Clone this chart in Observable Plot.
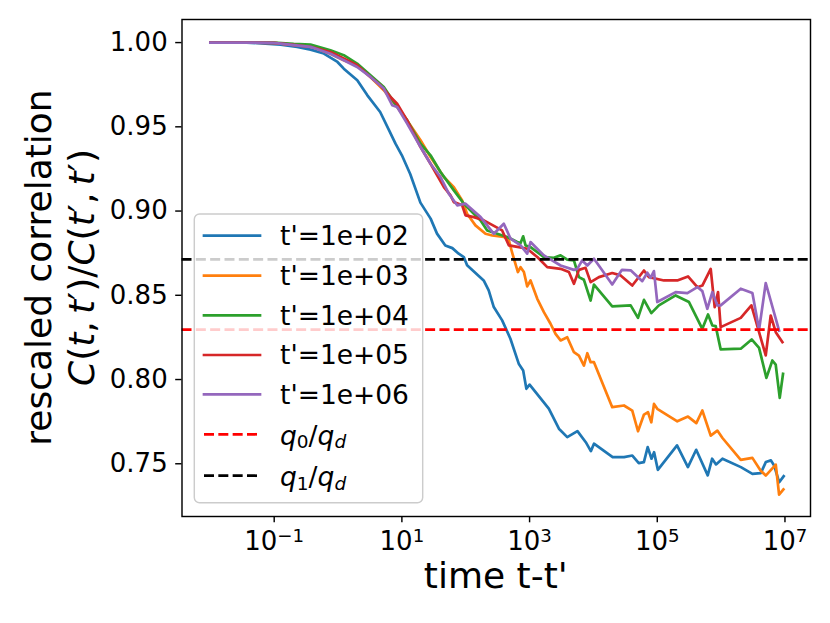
<!DOCTYPE html>
<html>
<head>
<meta charset="utf-8">
<script src="https://cdn.jsdelivr.net/npm/d3@7"></script>
<script src="https://cdn.jsdelivr.net/npm/@observablehq/plot@0.6"></script>
<style>
  html, body { margin: 0; padding: 0; background: white; }
  #chart { width: 830px; height: 623px; }
</style>
</head>
<body>
<div id="chart"></div>
<script>
// ---- data ----
const t_1e2 = [0.01, 0.037, 0.126, 0.229, 0.372, 0.60, 0.98, 1.23, 2.0, 2.88, 4.57, 6.31, 7.94, 10, 13.5, 19.5, 28.2, 35.5, 47.9, 61.7, 77.6, 93.3, 105, 191, 229, 275, 372, 501, 676, 794, 891, 1000, 2000, 2880, 3890, 5620, 7590, 9120, 10200, 20000, 30200, 40700, 51300, 61700, 70800, 81300, 89100, 102000, 204000, 302000, 407000, 617000, 724000, 832000, 1.05e6, 2.04e6, 3.09e6, 4.17e6, 5.01e6, 6.03e6, 6.76e6, 8.13e6, 9.55e6];
const c_1e2 = [1.000, 1.000, 0.9988, 0.9974, 0.9958, 0.9935, 0.9885, 0.9845, 0.9776, 0.9687, 0.9588, 0.9479, 0.9400, 0.9331, 0.9220, 0.9050, 0.8955, 0.8866, 0.8796, 0.8780, 0.8747, 0.8727, 0.8678, 0.8588, 0.8529, 0.8430, 0.8351, 0.8242, 0.8094, 0.8054, 0.7945, 0.7970, 0.7827, 0.7708, 0.7658, 0.7694, 0.7628, 0.7575, 0.7619, 0.7539, 0.7539, 0.7549, 0.7504, 0.7510, 0.7599, 0.7530, 0.7569, 0.7464, 0.7609, 0.7480, 0.7583, 0.7431, 0.7530, 0.7496, 0.7530, 0.7480, 0.7440, 0.7444, 0.7510, 0.7520, 0.7490, 0.7390, 0.7426];

const t_1e3 = [0.01, 0.037, 0.098, 0.202, 0.37, 0.76, 1.23, 1.99, 3.22, 5.21, 8.43, 12.1, 19.6, 28.1, 45.5, 65.2, 87.9, 105, 142, 204, 260, 395, 474, 522, 568, 656, 723, 815, 918, 1035, 1320, 1675, 2130, 2550, 3060, 3890, 4950, 5930, 7100, 8020, 9040, 10200, 19700, 30100, 40600, 49900, 61900, 71600, 80700, 88900, 100000, 206000, 303000, 409000, 508000, 687000, 873000, 1.05e6, 2.03e6, 3.09e6, 4.17e6, 5.0e6, 7.18e6, 8.09e6, 9.46e6];
const c_1e3 = [1.000, 1.000, 0.9998, 0.9986, 0.9978, 0.9934, 0.9895, 0.9865, 0.9796, 0.9717, 0.9618, 0.9538, 0.9420, 0.9321, 0.9202, 0.9142, 0.9063, 0.8984, 0.8915, 0.8865, 0.8855, 0.8846, 0.8826, 0.8766, 0.8717, 0.8638, 0.8667, 0.8638, 0.8553, 0.8588, 0.8479, 0.8400, 0.8331, 0.8271, 0.8232, 0.8251, 0.8162, 0.8142, 0.8083, 0.8156, 0.8103, 0.8103, 0.7836, 0.7846, 0.7816, 0.7693, 0.7792, 0.7806, 0.7746, 0.7855, 0.7826, 0.7752, 0.7780, 0.7741, 0.7816, 0.7667, 0.7697, 0.7653, 0.7523, 0.7535, 0.7459, 0.7430, 0.7495, 0.7317, 0.7348];

const t_1e4 = [0.01, 0.037, 0.098, 0.202, 0.37, 0.76, 1.23, 1.99, 3.22, 5.21, 7.48, 12.1, 19.6, 28.1, 40.3, 65.2, 93.5, 171, 217, 311, 447, 641, 723, 794, 865, 1035, 1675, 2400, 3060, 3890, 4950, 5930, 7100, 9040, 10200, 19700, 38300, 49900, 61900, 80700, 106000, 194000, 314000, 508000, 624000, 729000, 822000, 984000, 2.03e6, 3.01e6, 3.93e6, 5.12e6, 6.35e6, 7.16e6, 8.28e6, 9.33e6];
const c_1e4 = [1.000, 1.000, 1.000, 0.9992, 0.9988, 0.9954, 0.9925, 0.9875, 0.9806, 0.9736, 0.9647, 0.9538, 0.9400, 0.9331, 0.9232, 0.9123, 0.9043, 0.8944, 0.8885, 0.8865, 0.8846, 0.8816, 0.8810, 0.8850, 0.8796, 0.8786, 0.8727, 0.8723, 0.8737, 0.8711, 0.8707, 0.8608, 0.8592, 0.8469, 0.8564, 0.8434, 0.8440, 0.8366, 0.8473, 0.8394, 0.8440, 0.8499, 0.8460, 0.8301, 0.8386, 0.8321, 0.8317, 0.8179, 0.8183, 0.8238, 0.8188, 0.8010, 0.8113, 0.8089, 0.7891, 0.8034];

const t_1e5 = [0.01, 0.037, 0.098, 0.202, 0.37, 0.76, 1.23, 1.99, 3.22, 4.62, 6.64, 8.43, 12.1, 19.6, 28.1, 45.5, 57.8, 65.2, 87.9, 99.3, 134, 192, 372, 474, 679, 918, 1320, 1890, 3060, 4130, 4950, 5930, 7530, 9040, 12200, 19700, 26700, 40600, 61900, 74100, 127000, 206000, 303000, 425000, 508000, 687000, 793000, 895000, 984000, 2.03e6, 2.98e6, 5.0e6, 5.98e6, 7.18e6, 9.12e6];
const c_1e5 = [1.000, 1.000, 0.9998, 0.9986, 0.9975, 0.9944, 0.9905, 0.9865, 0.9796, 0.9746, 0.9677, 0.9637, 0.9538, 0.9380, 0.9281, 0.9142, 0.9093, 0.9053, 0.9034, 0.8974, 0.8964, 0.8945, 0.8885, 0.8796, 0.8786, 0.8776, 0.8727, 0.8667, 0.8657, 0.8638, 0.8568, 0.8651, 0.8663, 0.8578, 0.8608, 0.8632, 0.8618, 0.8558, 0.8647, 0.8608, 0.8588, 0.8588, 0.8612, 0.8548, 0.8558, 0.8657, 0.8430, 0.8519, 0.8311, 0.8366, 0.8440, 0.8143, 0.8380, 0.8281, 0.8222];

const t_1e6 = [0.01, 0.037, 0.098, 0.202, 0.37, 0.76, 1.23, 1.99, 3.22, 5.21, 7.05, 8.43, 12.1, 19.6, 28.1, 40.3, 54.3, 73.5, 99.3, 171, 276, 395, 504, 723, 918, 1035, 1675, 3060, 4950, 5580, 6680, 8020, 10200, 13800, 19700, 28000, 38300, 58300, 69800, 78700, 88700, 100000, 194000, 296000, 425000, 508000, 608000, 729000, 873000, 984000, 2.03e6, 3.09e6, 3.93e6, 5.0e6, 8.09e6];
const c_1e6 = [1.000, 1.000, 0.9998, 0.9985, 0.9975, 0.9934, 0.9895, 0.9855, 0.9796, 0.9727, 0.9628, 0.9618, 0.9519, 0.9380, 0.9281, 0.9202, 0.9103, 0.9034, 0.9044, 0.8964, 0.8865, 0.8925, 0.8836, 0.8796, 0.8747, 0.8816, 0.8737, 0.8677, 0.8651, 0.8657, 0.8707, 0.8677, 0.8717, 0.8647, 0.8564, 0.8651, 0.8648, 0.8584, 0.8634, 0.8604, 0.8644, 0.8460, 0.8519, 0.8513, 0.8549, 0.8525, 0.8420, 0.8519, 0.8440, 0.8440, 0.8539, 0.8513, 0.8295, 0.8573, 0.8291];

const seriesLabels = ["t'=1e+02", "t'=1e+03", "t'=1e+04", "t'=1e+05", "t'=1e+06"];
const seriesColors = ["#1f77b4", "#ff7f0e", "#2ca02c", "#d62728", "#9467bd"];
const q0_over_qd = 0.8296;
const q1_over_qd = 0.8713;
const xTicks = [1e-1, 1e1, 1e3, 1e5, 1e7];
const yTicks = [0.75, 0.80, 0.85, 0.90, 0.95, 1.00];

// ---- build tables ----
const seriesT = [t_1e2, t_1e3, t_1e4, t_1e5, t_1e6];
const seriesC = [c_1e2, c_1e3, c_1e4, c_1e5, c_1e6];
const tables = seriesT.map((ts, k) => ts.map((t, i) => ({t, c: seriesC[k][i]})));

const FONT = "DejaVu Sans";
const LW = 2.7;      // 1.5pt at 130 dpi
const AXLW = 1.44;   // 0.8pt
const DASH = "10,4.33";

const chart = Plot.plot({
  width: 830,
  height: 623,
  marginLeft: 181.5,
  marginRight: 20,
  marginTop: 19,
  marginBottom: 107,
  style: {fontFamily: FONT, background: "white", color: "black", overflow: "visible"},
  x: {type: "log", domain: [Math.pow(10, -2.444), Math.pow(10, 7.40)]},
  y: {domain: [0.7187, 1.0137]},
  marks: [
    ...tables.map((tb, k) => Plot.line(tb, {
      x: "t", y: "c", stroke: seriesColors[k], strokeWidth: LW,
      strokeLinejoin: "round", strokeLinecap: "square"
    })),
    Plot.ruleY([q0_over_qd], {stroke: "#ff0000", strokeWidth: LW, strokeDasharray: DASH}),
    Plot.ruleY([q1_over_qd], {stroke: "#000000", strokeWidth: LW, strokeDasharray: DASH}),
    Plot.axisX({
      ticks: xTicks, tickSize: 6.3, tickPadding: 9, fontSize: 26, label: null,
      strokeWidth: AXLW,
      tickFormat: d => "10^" + String(Math.round(Math.log10(d))).replace("-", "\u2212")
    }),
    Plot.axisY({
      ticks: yTicks, tickSize: 6.3, tickPadding: 8, fontSize: 26, label: null,
      strokeWidth: AXLW, tickFormat: d3.format(".2f")
    }),
    Plot.frame({stroke: "black", strokeWidth: AXLW})
  ]
});

document.getElementById("chart").appendChild(chart);
const svg = d3.select(chart);

// superscript exponents on x tick labels
svg.selectAll('g[aria-label="x-axis tick label"] text').each(function() {
  const s = this.textContent;
  const [b, e] = s.split("^");
  const el = d3.select(this);
  el.text(null);
  el.append("tspan").text(b);
  el.append("tspan").attr("font-size", 18.2).attr("dy", -8.3).text(e);
});

// axis labels
svg.append("text")
  .attr("x", 495.75).attr("y", 588)
  .attr("text-anchor", "middle")
  .attr("font-family", FONT).attr("font-size", 36).attr("fill", "black")
  .text("time t-t'");

svg.append("text")
  .attr("transform", "translate(51,267.5) rotate(-90)")
  .attr("text-anchor", "middle")
  .attr("font-family", FONT).attr("font-size", 36).attr("fill", "black")
  .text("rescaled correlation");

const yl2 = svg.append("text")
  .attr("transform", "translate(94,267.5) rotate(-90)")
  .attr("text-anchor", "middle")
  .attr("font-family", FONT).attr("font-size", 36).attr("fill", "black");
const parts2 = [
  ["C", true], ["(", false], ["t", true], [",\u2009", false], ["t", true], ["\u2032", false], [")", false],
  ["/", false], ["C", true], ["(", false], ["t", true], ["\u2032", false], [",\u2009", false], ["t", true], ["\u2032", false], [")", false]
];
parts2.forEach(([s, it]) => {
  yl2.append("tspan").attr("font-style", it ? "italic" : "normal").text(s);
});

// legend
const lg = svg.append("g").attr("font-family", FONT).attr("font-size", 26.5).attr("text-anchor", "start");
lg.append("rect")
  .attr("x", 194.3).attr("y", 214).attr("width", 228.4).attr("height", 288.7)
  .attr("rx", 5.3).attr("ry", 5.3)
  .attr("fill", "white").attr("fill-opacity", 0.8)
  .attr("stroke", "#cccccc").attr("stroke-width", AXLW);

const rowY = [235.7, 275.7, 315.3, 355.0, 394.3, 434.3, 475.7];
seriesLabels.forEach((lab, k) => {
  lg.append("line").attr("x1", 204).attr("x2", 260).attr("y1", rowY[k]).attr("y2", rowY[k])
    .attr("stroke", seriesColors[k]).attr("stroke-width", LW).attr("stroke-linecap", "square");
  lg.append("text").attr("x", 280).attr("y", rowY[k] + 9.4).attr("fill", "black")
    .attr("text-anchor", "start").text(lab);
});
const qRows = [["0", "#ff0000"], ["1", "#000000"]];
qRows.forEach(([sub, col], j) => {
  const y = rowY[5 + j];
  lg.append("line").attr("x1", 204).attr("x2", 260).attr("y1", y).attr("y2", y)
    .attr("stroke", col).attr("stroke-width", LW).attr("stroke-dasharray", DASH);
  const tx = lg.append("text").attr("x", 280).attr("y", y + 10.5).attr("fill", "black")
    .attr("text-anchor", "start");
  tx.append("tspan").attr("font-style", "italic").text("q");
  tx.append("tspan").attr("font-size", 18.5).attr("dy", 3.5).text(sub);
  tx.append("tspan").attr("dy", -3.5).text("/");
  tx.append("tspan").attr("font-style", "italic").text("q");
  tx.append("tspan").attr("font-style", "italic").attr("font-size", 18.5).attr("dy", 3.5).text("d");
});
</script>
</body>
</html>
